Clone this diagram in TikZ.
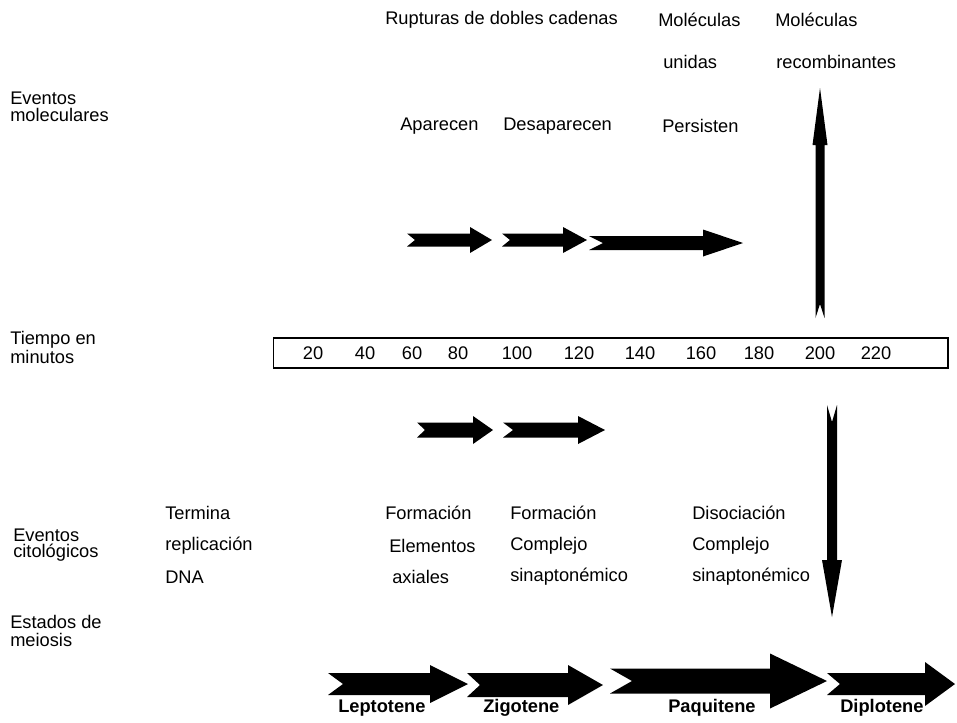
\documentclass[tikz,border=0pt]{standalone}
\usepackage{fontspec}
\setmainfont{Liberation Sans}
\begin{document}
\begin{tikzpicture}[x=0.75pt,y=-0.75pt,
  lbl/.style={anchor=west,inner sep=0pt,font=\fontsize{13.7}{16}\selectfont},
  num/.style={anchor=center,inner sep=0pt,font=\fontsize{13.7}{16}\selectfont},
  stage/.style={anchor=west,inner sep=0pt,font=\fontsize{13.7}{16}\selectfont\bfseries},
  blk/.style={fill=black}]
\useasboundingbox (0,0) rectangle (957,722);
% horizontal notched block arrow: tail x, tip x, y, shaft half, head half, head length, notch
\newcommand{\hbarrow}[7]{%
  \fill[blk] (#1,#3-#4) -- (#2-#6,#3-#4) -- (#2-#6,#3-#5) -- (#2,#3) -- (#2-#6,#3+#5) -- (#2-#6,#3+#4) -- (#1,#3+#4) -- (#1+#7,#3) -- cycle;}
% vertical notched block arrow: x, tail y, tip y, shaft half, head half, head length (signed), notch (signed)
\newcommand{\vbarrow}[7]{%
  \fill[blk] (#1-#4,#2) -- (#1-#4,#3-#6) -- (#1-#5,#3-#6) -- (#1,#3) -- (#1+#5,#3-#6) -- (#1+#4,#3-#6) -- (#1+#4,#2) -- (#1,#2+#7) -- cycle;}

% ---- left labels
\node[lbl] (em1) at (10,98) {Eventos};
\node[lbl] (em2) at (10,115) {moleculares};
\node[lbl] (tm1) at (10,340) {Tiempo en};
\node[lbl] (tm2) at (10,357) {minutos};
\node[lbl] (ec1) at (13,535) {Eventos};
\node[lbl] (ec2) at (13,553) {citológicos};
\node[lbl] (es1) at (10,622) {Estados de};
\node[lbl] (es2) at (10,640) {meiosis};

% ---- molecular events
\node[lbl] (rup) at (385,20) {Rupturas de dobles cadenas};
\node[lbl] (mol1) at (658,20) {Moléculas};
\node[lbl] (mol2) at (775,20) {Moléculas};
\node[lbl] (uni) at (663,62) {unidas};
\node[lbl] (rec) at (776,62) {recombinantes};
\node[lbl] (apa) at (400,126) {Aparecen};
\node[lbl] (des) at (503,126) {Desaparecen};
\node[lbl] (per) at (662,126) {Persisten};

\hbarrow{407}{492}{240}{6.5}{13}{22}{8}
\hbarrow{502}{587}{240}{6.5}{13}{24}{8}
\hbarrow{589}{743}{243}{7}{13.5}{40}{14}

% up arrow
\vbarrow{820}{318}{88}{4.5}{7.5}{-57}{-14}

% ---- time line
\node[draw,line width=1pt,inner sep=0pt,minimum width=506pt,minimum height=22.5pt] (box) at (610.5,353) {};
\node[num] (t20) at (313,353) {20};
\node[num] (t40) at (365,353) {40};
\node[num] (t60) at (412,353) {60};
\node[num] (t80) at (458,353) {80};
\node[num] (t100) at (517,353) {100};
\node[num] (t120) at (579,353) {120};
\node[num] (t140) at (640,353) {140};
\node[num] (t160) at (701,353) {160};
\node[num] (t180) at (759,353) {180};
\node[num] (t200) at (820,353) {200};
\node[num] (t220) at (876,353) {220};

% down arrow
\vbarrow{832}{405}{617}{5}{10}{57}{17}

% small arrows
\hbarrow{417}{493}{430}{7.5}{14}{20}{8}
\hbarrow{503}{605}{430}{7.5}{14}{27}{10}

% ---- cytological events
\node[lbl] (ter) at (165,513) {Termina};
\node[lbl] (rep) at (165,546) {replicación};
\node[lbl] (dna) at (165,577) {DNA};
\node[lbl] (f1) at (385,513) {Formación};
\node[lbl] (ele) at (389,546) {Elementos};
\node[lbl] (axi) at (392,577) {axiales};
\node[lbl] (f2) at (510,513) {Formación};
\node[lbl] (com1) at (510,546) {Complejo};
\node[lbl] (sin1) at (510,577) {sinaptonémico};
\node[lbl] (dis) at (692,513) {Disociación};
\node[lbl] (com2) at (692,546) {Complejo};
\node[lbl] (sin2) at (692,577) {sinaptonémico};

% ---- meiosis stages
\hbarrow{328}{468}{684}{11}{19}{38}{15}
\hbarrow{467}{603}{685}{12}{20}{35}{13}
\hbarrow{610}{827}{681}{12.5}{27.5}{57}{22}
\hbarrow{827}{955}{684}{11}{22}{30}{13}
\node[stage] (lep) at (338,708) {Leptotene};
\node[stage] (zig) at (483,708) {Zigotene};
\node[stage] (paq) at (668,708) {Paquitene};
\node[stage] (dip) at (840,708) {Diplotene};
\end{tikzpicture}
\end{document}
